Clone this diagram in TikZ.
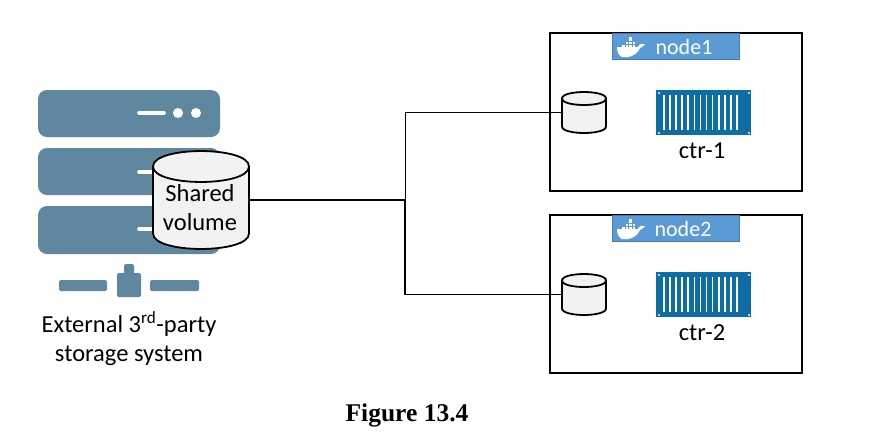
\documentclass[tikz,border=0pt]{standalone}
\usepackage{fontspec}
\setmainfont{Carlito}
\newfontfamily\captionfont{Liberation Serif}
\definecolor{serverblue}{HTML}{5F879F}
\definecolor{labelblue}{HTML}{5B9BD5}
\definecolor{crateblue}{HTML}{0F6DA6}
\definecolor{volgray}{HTML}{F2F2F2}
\newcommand{\drum}[4]{
  \begin{scope}[shift={(#1.center)}]
    \draw[line width=1.8pt, fill=volgray] (-#2,-#3+#4)
      .. controls (-#2,-#3-0.33*#4) and (#2,-#3-0.33*#4) .. (#2,-#3+#4)
      -- (#2,#3-#4)
      .. controls (#2,#3+0.33*#4) and (-#2,#3+0.33*#4) .. (-#2,#3-#4)
      -- cycle;
    \draw[line width=1.8pt] (-#2,-#3+#4)
      .. controls (-#2,-#3+2.33*#4) and (#2,-#3+2.33*#4) .. (#2,-#3+#4);
  \end{scope}
}
\tikzset{
  whale/.pic={
    \fill[white] (0,10) -- (21,10) .. controls (22,7) and (25,6) .. (28,7.5)
      .. controls (26,9.5) and (24,10.5) .. (23,11)
      .. controls (19,20) and (9,21) .. (5,20)
      .. controls (2,19) and (0,15) .. (0,10) -- cycle;
    \foreach \col/\row in {5/1,8.5/1,12/1,15.5/1,8.5/2,12/2,15.5/2,12/3,12/4} {
      \fill[white] (\col,10.3-\row*2.7) rectangle ++(2.8,2.2);
    }
  },
  crate/.pic={
    \fill[crateblue] (0,0) rectangle (95,45);
    \foreach \barx in {0,...,12} {
      \fill[white] (7+\barx*6.1,5) rectangle ++(1.6,35);
    }
    \foreach \cornx/\corny in {2/2,92/2,2/42,92/42} {
      \fill[white!70!crateblue] (\cornx,\corny) rectangle ++(1.8,1.8);
    }
  }
}
\begin{document}
\begin{tikzpicture}[
    x=1pt,
    y=-1pt,
    serverbar/.style={
      fill=serverblue,
      rounded corners=9pt
    },
    serverpart/.style={
      fill=serverblue,
      rounded corners=1.5pt
    },
    hostbox/.style={
      draw,
      line width=1.8pt,
      minimum width=252pt,
      minimum height=158pt
    },
    hostlabel/.style={
      draw=labelblue!80!black,
      line width=0.5pt,
      fill=labelblue,
      minimum width=127pt,
      minimum height=26pt
    },
    hosttext/.style={
      text=white,
      font=\fontsize{22}{22}\selectfont
    },
    bigvol/.style={
      minimum width=96pt,
      minimum height=98pt,
      inner sep=0pt
    },
    smallvol/.style={
      minimum width=44pt,
      minimum height=41pt,
      inner sep=0pt
    },
    caption/.style={
      align=center,
      font=\fontsize{24.5}{29}\selectfont
    }
  ]
    \useasboundingbox (0,0) rectangle (874,437);

    % storage system
    \fill[serverbar] (38,90) rectangle (220,137);
    \fill[serverbar] (38,148) rectangle (220,195);
    \fill[serverbar] (38,206) rectangle (220,254);
    \foreach \rowy in {113,172,229} {
      \draw[white, line width=3.6pt, line cap=round] (139,\rowy) -- (164,\rowy);
      \fill[white] (178,\rowy) circle (5);
      \fill[white] (196,\rowy) circle (5);
    }
    \fill[serverpart] (59,280) rectangle (107,291);
    \fill[serverpart] (150,280) rectangle (199,291);
    \fill[serverpart] (117,273) rectangle (141,297);
    \fill[serverpart] (124,264) rectangle (134,278);

    \node[bigvol] (shared) at (201,200) {};
    \drum{shared}{48}{49}{15.5}
    \node[caption] (sharedtext) at (200,207.5) {Shared\\volume};
    \node[caption] (storage) at (129,339) {External 3\textsuperscript{rd}-party\\storage system};

    % hosts
    \node[hostbox] (host1) at (676,112) {};
    \node[hostbox] (host2) at (676,294) {};
    \node[hostlabel] (label1) at (675.5,46.5) {};
    \node[hostlabel] (label2) at (675.5,228) {};
    \node[hosttext] (name1) at (684,47) {node1};
    \node[hosttext] (name2) at (683,228.5) {node2};
    \pic at (617,37) {whale};
    \pic at (617,219) {whale};

    \node[smallvol] (vol1) at (584,112.5) {};
    \node[smallvol] (vol2) at (584,294.5) {};
    \drum{vol1}{22}{20.5}{6.5}
    \drum{vol2}{22}{20.5}{6.5}

    \pic at (656,90) {crate};
    \pic at (656,272) {crate};
    \node[caption] (ctr1) at (702,151) {ctr-1};
    \node[caption] (ctr2) at (702,333) {ctr-2};

    \node[font=\captionfont\bfseries\fontsize{25.5}{25.5}\selectfont] (figure) at (407,415) {Figure 13.4};

    % connectors
    \coordinate (branch) at (405,200);
    \draw[line width=1.8pt] (shared) -- (branch);
    \draw[line width=0.9pt] (branch) |- (vol1);
    \draw[line width=1.8pt] (branch) |- (vol2);
  \end{tikzpicture}
\end{document}
